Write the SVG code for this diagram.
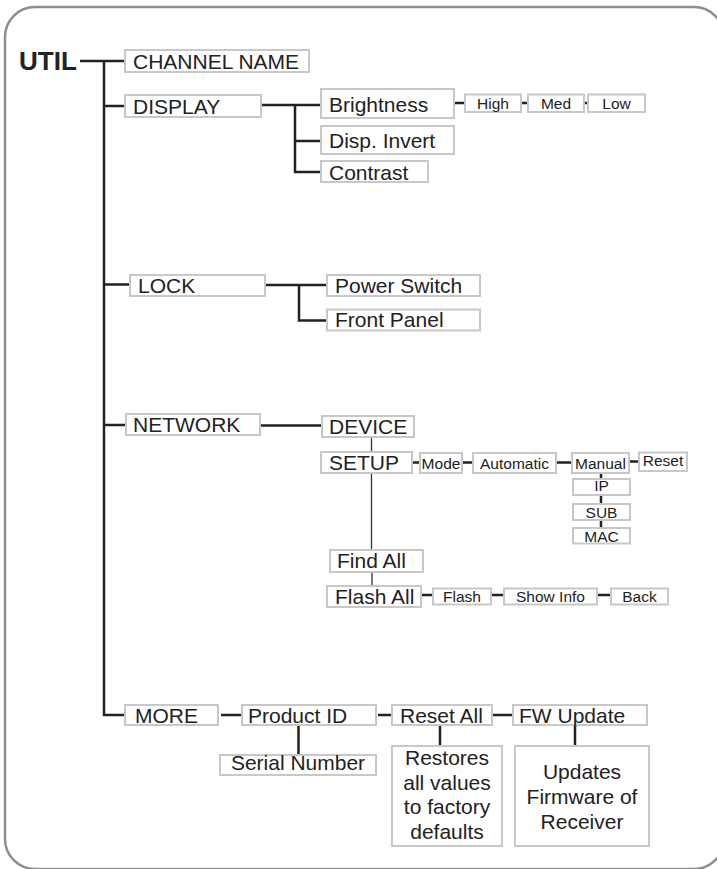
<svg xmlns="http://www.w3.org/2000/svg" width="717" height="869" viewBox="0 0 717 869">
<style>
.bx{fill:#fff;stroke:#c8c8c8;stroke-width:2}
.t{font-family:"Liberation Sans",Arial,Helvetica,sans-serif;font-size:21px;fill:#222}
.s{font-size:15.5px}
.u{font-size:26px;font-weight:bold}
.c{text-anchor:middle}
.ln{stroke:#222;stroke-width:2.5;fill:none}
.th{stroke:#333;stroke-width:1.3;fill:none}
</style>
<rect x="5" y="7" width="719" height="862" rx="30" fill="#fff" stroke="#8e8e8e" stroke-width="2.5"/>
<g id="connectors">
<path class="ln" d="M80 61H125M104 61V715H125M104 106H125M104 284.5H130M104 425H126"/>
<path class="ln" d="M261 105H321M295 105V172H321M295 141H321"/>
<path class="ln" d="M454 103H465M521 103H528M584 103H588"/>
<path class="ln" d="M265 285H327M299 285V320.5H327"/>
<path class="ln" d="M260 425.5H322"/>
<path class="th" d="M371.5 437V452M371.5 473V550M372 572V586"/>
<path class="ln" d="M413 462.5H420M462 462.5H473M556 462.5H572M630 461.5H639"/>
<path class="ln" d="M601 473V479M601 495V504M601 520V528"/>
<path class="ln" d="M421 595H433M491 595H504M597 595H611"/>
<path class="ln" d="M221 715H242M298.5 725V755M378 715H392M493 715H513M440 725V746M575 725V746"/>
</g>
<g id="util"><text class="t u" x="19" y="70">UTIL</text></g>
<g id="channel-name"><rect class="bx" x="125" y="50" width="184" height="22"/><text class="t" x="133" y="68.5">CHANNEL NAME</text></g>
<g id="display"><rect class="bx" x="125" y="95" width="136" height="22"/><text class="t" x="133" y="113.5">DISPLAY</text></g>
<g id="brightness"><rect class="bx" x="321" y="89" width="133" height="29"/><text class="t" x="329" y="112">Brightness</text></g>
<g id="disp-invert"><rect class="bx" x="321" y="126" width="133" height="28"/><text class="t" x="329" y="148">Disp. Invert</text></g>
<g id="contrast"><rect class="bx" x="321" y="161" width="107" height="21"/><text class="t" x="329" y="180">Contrast</text></g>
<g id="high"><rect class="bx" x="465" y="94.5" width="56" height="17.5"/><text class="t s c" x="493" y="108.5">High</text></g>
<g id="med"><rect class="bx" x="528" y="94.5" width="56" height="17.5"/><text class="t s c" x="556" y="108.5">Med</text></g>
<g id="low"><rect class="bx" x="588" y="94.5" width="57" height="17.5"/><text class="t s c" x="616.5" y="108.5">Low</text></g>
<g id="lock"><rect class="bx" x="130" y="275" width="135" height="21"/><text class="t" x="138" y="293">LOCK</text></g>
<g id="power-switch"><rect class="bx" x="327" y="275" width="153" height="21"/><text class="t" x="335" y="293">Power Switch</text></g>
<g id="front-panel"><rect class="bx" x="327" y="309.5" width="153" height="21"/><text class="t" x="335" y="327">Front Panel</text></g>
<g id="network"><rect class="bx" x="126" y="414" width="134" height="21"/><text class="t" x="133" y="432">NETWORK</text></g>
<g id="device"><rect class="bx" x="322" y="416" width="92" height="21"/><text class="t" x="329" y="434">DEVICE</text></g>
<g id="setup"><rect class="bx" x="321" y="452" width="91" height="21"/><text class="t" x="329" y="470">SETUP</text></g>
<g id="mode"><rect class="bx" x="420" y="453" width="42" height="20"/><text class="t s c" x="441" y="468.5">Mode</text></g>
<g id="automatic"><rect class="bx" x="473" y="453" width="83" height="20"/><text class="t s c" x="514.5" y="468.5">Automatic</text></g>
<g id="manual"><rect class="bx" x="572" y="453" width="57" height="20"/><text class="t s c" x="600.5" y="468.5">Manual</text></g>
<g id="reset"><rect class="bx" x="639" y="452.5" width="48" height="18.5"/><text class="t s c" x="663" y="466">Reset</text></g>
<g id="ip"><rect class="bx" x="573" y="479" width="57" height="16"/><text class="t s c" x="601.5" y="491">IP</text></g>
<g id="sub"><rect class="bx" x="573" y="504" width="57" height="16"/><text class="t s c" x="601.5" y="517.5">SUB</text></g>
<g id="mac"><rect class="bx" x="573" y="528" width="57" height="15.5"/><text class="t s c" x="601.5" y="541.5">MAC</text></g>
<g id="find-all"><rect class="bx" x="330" y="550" width="93" height="22"/><text class="t" x="337" y="568">Find All</text></g>
<g id="flash-all"><rect class="bx" x="327" y="586" width="94" height="21"/><text class="t" x="335" y="603.5">Flash All</text></g>
<g id="flash"><rect class="bx" x="433" y="588.5" width="58" height="16"/><text class="t s c" x="462" y="601.5">Flash</text></g>
<g id="show-info"><rect class="bx" x="504" y="588.5" width="93" height="16"/><text class="t s c" x="550.5" y="601.5">Show Info</text></g>
<g id="back"><rect class="bx" x="611" y="588.5" width="57" height="16"/><text class="t s c" x="639.5" y="601.5">Back</text></g>
<g id="more"><rect class="bx" x="125" y="705" width="93" height="20"/><text class="t" x="135" y="723">MORE</text></g>
<g id="product-id"><rect class="bx" x="242" y="705" width="134" height="20"/><text class="t" x="248" y="723">Product ID</text></g>
<g id="serial-number"><rect class="bx" x="220" y="755" width="156" height="20"/><text class="t c" x="298" y="769.5">Serial Number</text></g>
<g id="reset-all"><rect class="bx" x="392" y="705" width="100" height="20"/><text class="t" x="400" y="723">Reset All</text></g>
<g id="fw-update"><rect class="bx" x="513" y="705" width="134" height="20"/><text class="t" x="519" y="723">FW Update</text></g>
<g id="restores"><rect class="bx" x="392" y="746" width="110" height="100"/><text class="t c" x="447" y="765">Restores</text><text class="t c" x="447" y="790">all values</text><text class="t c" x="447" y="814">to factory</text><text class="t c" x="447" y="838.5">defaults</text></g>
<g id="updates"><rect class="bx" x="515" y="746" width="134" height="100"/><text class="t c" x="582" y="778.5">Updates</text><text class="t c" x="582" y="803.5">Firmware of</text><text class="t c" x="582" y="828.5">Receiver</text></g>
</svg>
